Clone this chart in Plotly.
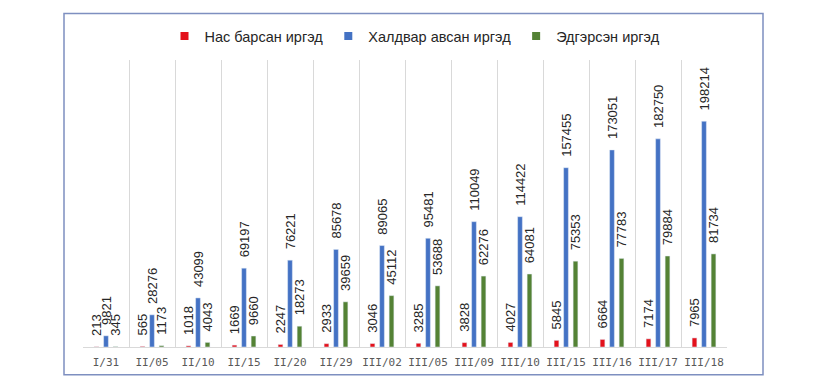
import plotly.graph_objects as go

categories = ["I/31", "II/05", "II/10", "II/15", "II/20", "II/29", "III/02",
              "III/05", "III/09", "III/10", "III/15", "III/16", "III/17", "III/18"]
deaths = [213, 565, 1018, 1669, 2247, 2933, 3046, 3285, 3828, 4027, 5845, 6664, 7174, 7965]
infected = [9821, 28276, 43099, 69197, 76221, 85678, 89065, 95481, 110049, 114422,
            157455, 173051, 182750, 198214]
recovered = [345, 1173, 4043, 9660, 18273, 39659, 45112, 53688, 62276, 64081,
             75353, 77783, 79884, 81734]

series_names = ["Нас барсан иргэд", "Халдвар авсан иргэд", "Эдгэрсэн иргэд"]
colors = ["#E3111B", "#4472C4", "#548235"]

# page body has an 8px margin; compensate
OFF = 8
W, H = 825 - OFF, 384 - OFF
L, R, T, B = 83 - OFF, 727 - OFF, 57 - OFF, 347 - OFF

fig = go.Figure()
for name, vals, col in zip(series_names, [deaths, infected, recovered], colors):
    fig.add_trace(go.Bar(
        x=categories, y=vals, name=name, marker_color=col, showlegend=False,
        text=vals, texttemplate="\u00a0\u00a0\u00a0%{text}", textposition="outside",
        textangle=-90, constraintext="none", cliponaxis=False,
        textfont=dict(family="Liberation Sans, Arial", size=13, color="#262626"),
    ))
for name, col in zip(series_names, colors):
    fig.add_trace(go.Scatter(
        x=[None], y=[None], mode="markers", name=name,
        marker=dict(symbol="square", size=8, color=col),
    ))

fig.update_layout(
    width=W, height=H,
    margin=dict(l=L, r=W - R, t=T, b=H - B, pad=0),
    paper_bgcolor="white", plot_bgcolor="white",
    barmode="group", bargap=0.38, bargroupgap=0.5,
    font=dict(family="Liberation Sans, Arial", color="#262626"),
    legend=dict(orientation="h", x=(415 - 83) / 644, xanchor="center", y=1.083,
                yanchor="middle", font=dict(size=14.5, color="#262626"), itemwidth=30,
                bgcolor="rgba(0,0,0,0)"),
    xaxis=dict(type="category", tickson="boundaries", showgrid=True, gridcolor="#D9D9D9",
               gridwidth=1, showline=True, linecolor="#D9D9D9", linewidth=1, ticks="",
               tickangle=0,
               tickfont=dict(family="DejaVu Sans Mono", size=11, color="#595959"),
               ticklabelstandoff=5, zeroline=False),
    yaxis=dict(range=[0, 252000], visible=False, showgrid=False, zeroline=False),
    shapes=[dict(type="rect", xref="paper", yref="paper",
                 x0=(64 - OFF - L) / (R - L), x1=(763 - OFF - L) / (R - L),
                 y0=(B - (375 - OFF)) / (B - T), y1=(B - (10 - OFF)) / (B - T),
                 line=dict(color="#7E8FC0", width=1.5), fillcolor="rgba(0,0,0,0)",
                 layer="below")],
)

fig.write_html("out.html")
